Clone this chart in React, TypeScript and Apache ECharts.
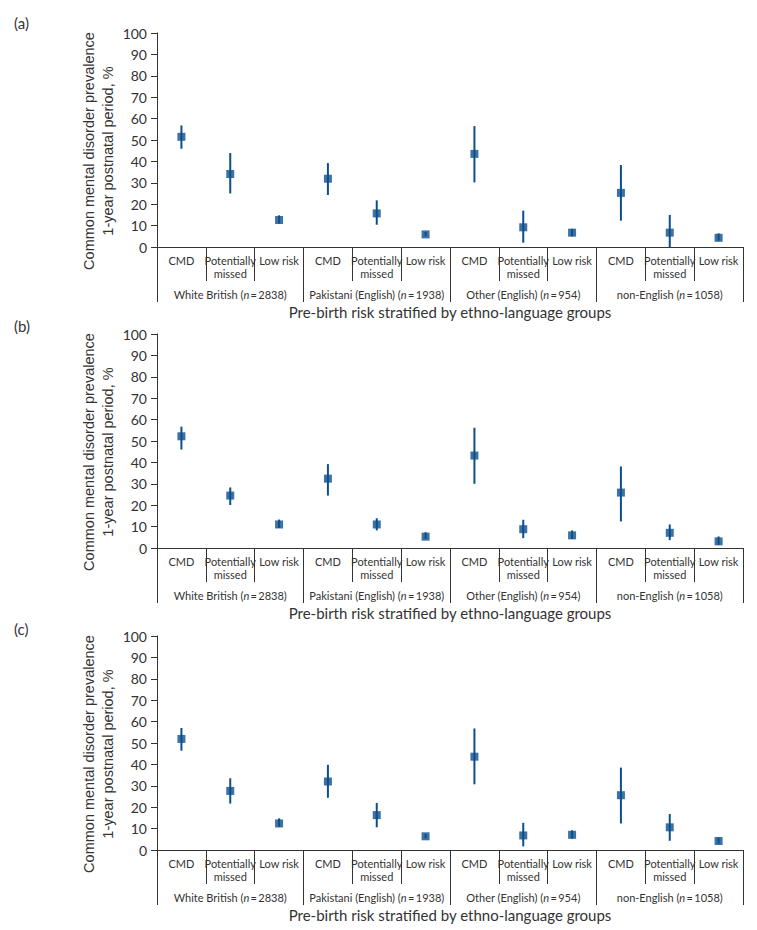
import React, { useEffect, useRef } from 'react';
import * as echarts from 'echarts';

// ---- data ----
const riskLevels = ['CMD', 'Potentially\nmissed', 'Low risk'];
const groupNames = ['White British', 'Pakistani (English)', 'Other (English)', 'non-English'];
const groupN = [2838, 1938, 954, 1058];
const panelTags = ['(a)', '(b)', '(c)'];
const yTitle = 'Common mental disorder prevalence\n1-year postnatal period, %';
const xTitle = 'Pre-birth risk stratified by ethno-language groups';

// Panel (a)
const estA = [51.5, 34.1, 12.6, 31.9, 15.7, 5.9, 43.5, 9.2, 6.7, 25.3, 6.7, 4.3];
const lowA = [45.9, 25.0, 11.0, 24.3, 10.4, 5.0, 30.2, 2.0, 5.0, 12.3, 0.0, 3.0];
const highA = [56.8, 43.9, 14.8, 39.2, 21.8, 7.0, 56.5, 17.0, 8.5, 38.3, 15.0, 6.4];
// Panel (b)
const estB = [52.2, 24.5, 11.0, 32.4, 11.0, 5.3, 43.2, 8.8, 5.9, 25.9, 7.1, 3.1];
const lowB = [46.0, 20.1, 9.4, 24.5, 8.2, 4.3, 30.0, 4.6, 4.2, 12.4, 3.7, 1.5];
const highB = [56.7, 28.3, 13.3, 39.2, 13.9, 7.4, 56.2, 13.2, 8.2, 38.1, 11.0, 5.4];
// Panel (c)
const estC = [51.9, 27.6, 12.4, 32.0, 16.3, 6.4, 43.6, 6.8, 7.1, 25.6, 10.6, 4.2];
const lowC = [46.4, 21.7, 10.9, 24.4, 10.6, 5.5, 30.7, 1.7, 5.3, 12.4, 4.3, 3.0];
const highC = [57.0, 33.5, 14.8, 39.8, 22.0, 7.5, 56.8, 12.7, 9.2, 38.5, 16.8, 5.7];

const panels = [
  { est: estA, low: lowA, high: highA },
  { est: estB, low: lowB, high: highB },
  { est: estC, low: lowC, high: highC },
];

const categories: string[] = [];
groupNames.forEach(() => riskLevels.forEach((r) => categories.push(r)));

// ---- layout / style ----
const MARK = '#0d4f8b';
const AXIS = '#333333';
const TEXT = '#333333';
const FONT = 'Lato';
const SANS = 'Liberation Sans';
const gridTops = [33, 334, 636];
const gridHeight = 214;
const gridLeft = 157;
const gridRight = 14;
const tagTops = [15, 318, 621];
const yTitleCenters = [151, 452, 754];

export default function App() {
  const ref = useRef<HTMLDivElement>(null);

  useEffect(() => {
    if (!ref.current) return;
    const chart = echarts.init(ref.current, undefined, { renderer: 'svg' });

    const grid: any[] = [];
    const xAxis: any[] = [];
    const yAxis: any[] = [];
    const series: any[] = [];
    const graphic: any[] = [];

    panels.forEach((p, g) => {
      grid.push({ left: gridLeft, right: gridRight, top: gridTops[g], height: gridHeight });
      xAxis.push({
        type: 'category',
        gridIndex: g,
        data: categories,
        boundaryGap: true,
        position: 'bottom',
        axisLine: { show: true, lineStyle: { color: AXIS, width: 1 } },
        axisTick: { show: true, interval: 0, length: 34, alignWithLabel: false, lineStyle: { color: AXIS, width: 1 } },
        axisLabel: {
          interval: 0,
          fontFamily: FONT,
          fontSize: 11,
          lineHeight: 13,
          margin: 7,
          color: TEXT,
        },
        splitLine: { show: false },
      });
      xAxis.push({
        type: 'category',
        gridIndex: g,
        data: groupNames,
        boundaryGap: true,
        position: 'bottom',
        axisLine: { show: false },
        axisTick: { show: true, interval: 0, length: 55, alignWithLabel: false, lineStyle: { color: AXIS, width: 1 } },
        axisLabel: {
          interval: 0,
          fontFamily: FONT,
          fontSize: 11,
          margin: 42,
          color: TEXT,
          formatter: (v: string, idx: number) => `${v} ({i|n}\u2009=\u2009${groupN[idx]})`,
          rich: { i: { fontStyle: 'italic', fontFamily: FONT, fontSize: 11, color: TEXT } },
        },
        name: xTitle,
        nameLocation: 'middle',
        nameGap: 57,
        nameTextStyle: { fontFamily: FONT, fontSize: 15, color: TEXT },
        splitLine: { show: false },
      });
      yAxis.push({
        type: 'value',
        gridIndex: g,
        min: 0,
        max: 100,
        interval: 10,
        axisLine: { show: true, lineStyle: { color: AXIS, width: 1 } },
        axisTick: { show: true, length: 6, lineStyle: { color: AXIS } },
        axisLabel: { fontFamily: FONT, fontSize: 14, margin: 10, color: TEXT },
        splitLine: { show: false },
      });

      series.push({
        type: 'custom',
        xAxisIndex: 2 * g,
        yAxisIndex: g,
        encode: { x: 0, y: [1, 2] },
        data: categories.map((_, i) => [i, p.low[i], p.high[i]]),
        renderItem: (params: any, api: any) => {
          const x = api.value(0);
          const a = api.coord([x, api.value(1)]);
          const b = api.coord([x, api.value(2)]);
          return {
            type: 'line',
            shape: { x1: a[0], y1: a[1], x2: b[0], y2: b[1] },
            style: { stroke: MARK, lineWidth: 2 },
          };
        },
        z: 2,
      });
      series.push({
        type: 'scatter',
        xAxisIndex: 2 * g,
        yAxisIndex: g,
        symbol: 'rect',
        symbolSize: 8,
        itemStyle: { color: MARK },
        data: categories.map((_, i) => [i, p.est[i]]),
        z: 3,
      });

      graphic.push({
        type: 'text',
        left: 14,
        top: tagTops[g],
        style: { text: panelTags[g], fontFamily: FONT, fontSize: 15, fill: TEXT },
      });
      graphic.push({
        type: 'text',
        x: 98,
        y: yTitleCenters[g],
        rotation: Math.PI / 2,
        style: {
          text: yTitle,
          fontFamily: SANS,
          fontSize: 14.5,
          lineHeight: 19,
          fill: TEXT,
          align: 'center',
          verticalAlign: 'middle',
        },
      });
    });

    chart.setOption({
      animation: false,
      backgroundColor: '#ffffff',
      grid,
      xAxis,
      yAxis,
      series,
      graphic,
    });

    return () => chart.dispose();
  }, []);

  return (
    <div
      ref={ref}
      style={{ position: 'absolute', left: 0, top: 0, width: 757, height: 930 }}
    />
  );
}
